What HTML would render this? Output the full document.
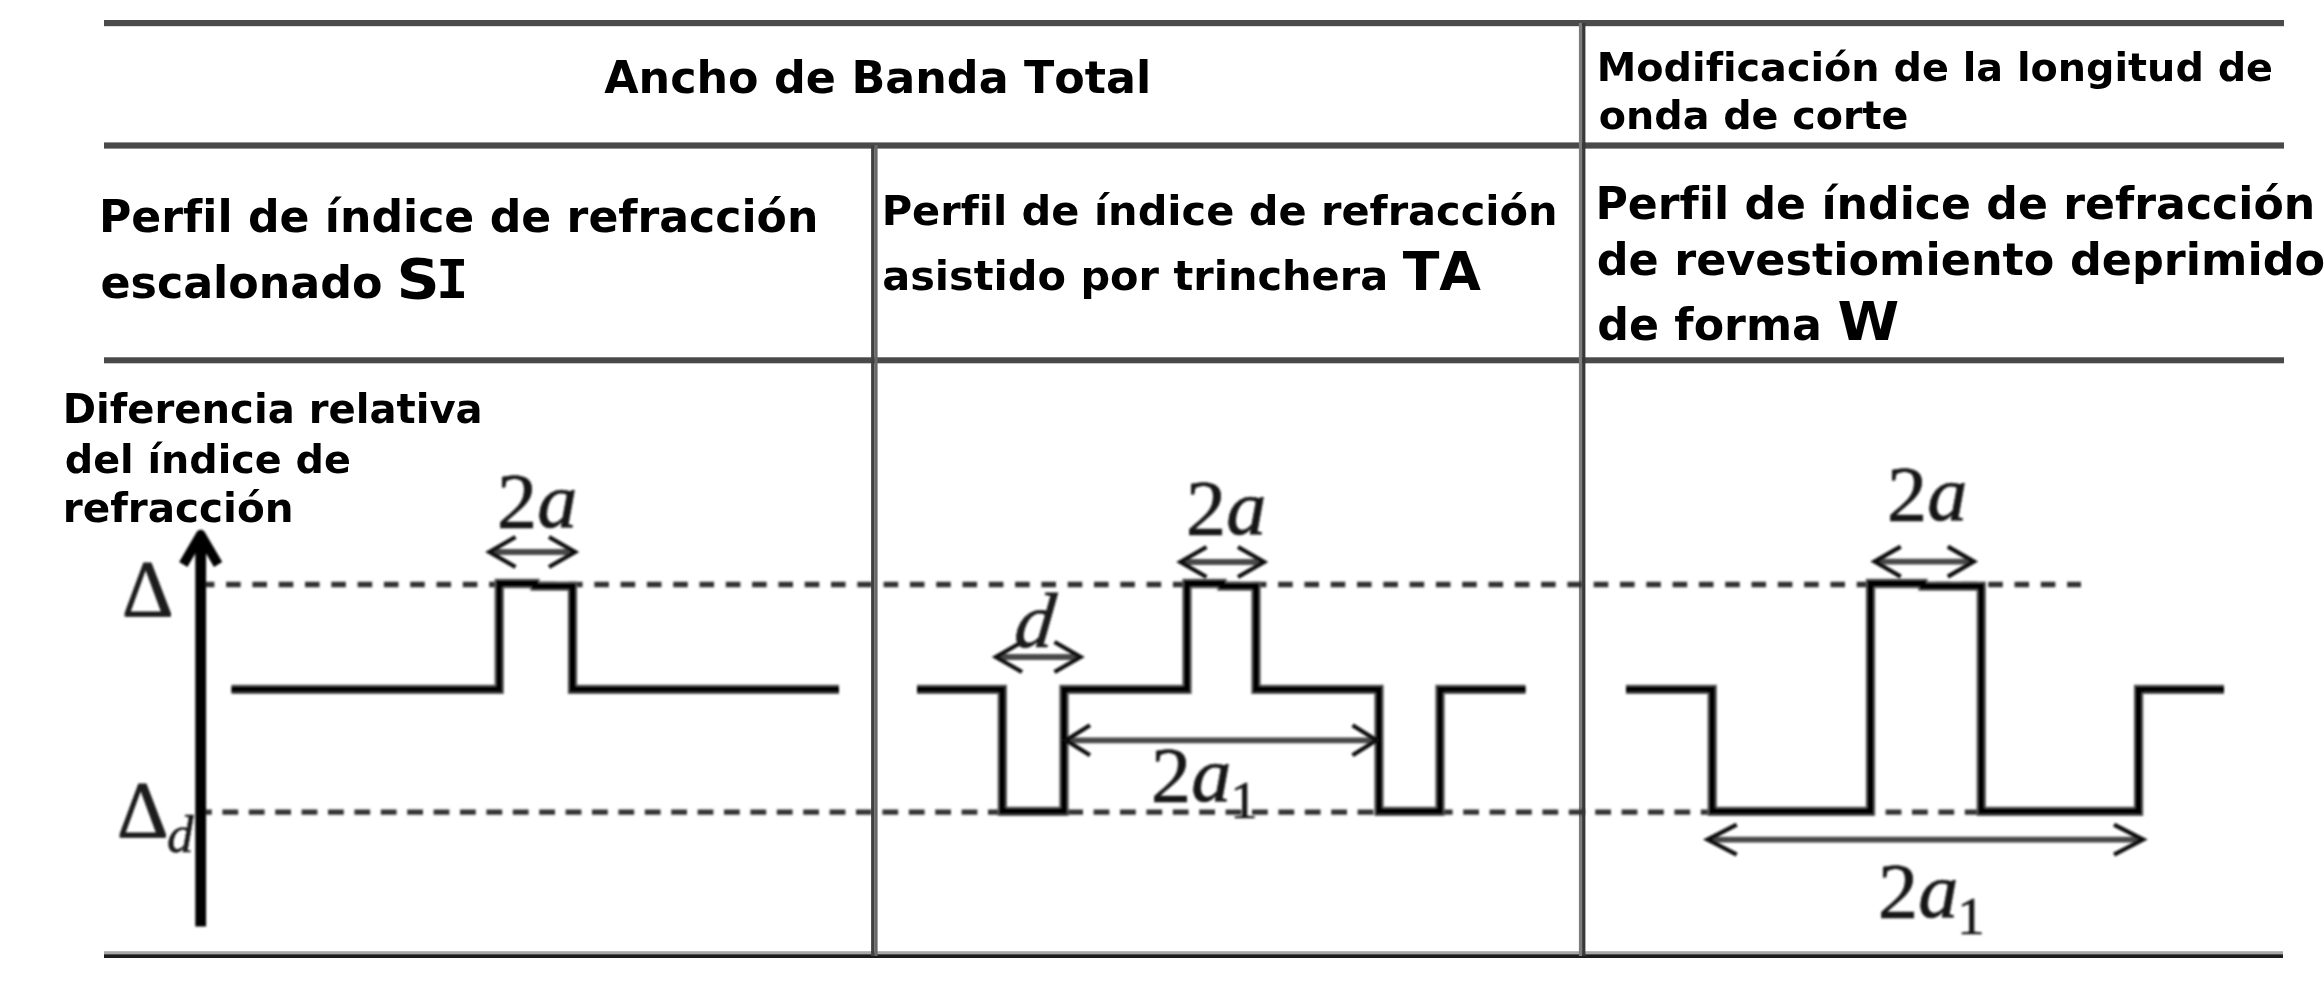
<!DOCTYPE html>
<html lang="es"><head><meta charset="utf-8"><title>Perfiles de índice de refracción</title>
<style>
html,body{margin:0;padding:0;background:#fff;}
body{width:2324px;height:998px;overflow:hidden;}
svg{display:block;}
text{white-space:pre;font-kerning:none;}
</style></head><body>
<svg width="2324" height="998" viewBox="0 0 2324 998">
<defs>
<filter id="b1" x="-5%" y="-5%" width="110%" height="110%"><feGaussianBlur stdDeviation="0.7"/></filter>
<filter id="b2" x="-5%" y="-5%" width="110%" height="110%"><feGaussianBlur stdDeviation="1.3"/></filter>
<filter id="b0" x="-5%" y="-5%" width="110%" height="110%"><feGaussianBlur stdDeviation="0.45"/></filter>
</defs>
<rect width="2324" height="998" fill="#fff"/>
<g filter="url(#b1)">
<rect x="104" y="20.0" width="2180" height="6.2" fill="#4c4c4c"/>
<rect x="104" y="142.4" width="2180" height="6.2" fill="#484848"/>
<rect x="104" y="357.3" width="2180" height="6.0" fill="#484848"/>
<rect x="104" y="951.2" width="2179" height="3.4" fill="#a8a8a8"/>
<rect x="104" y="954.3" width="2179" height="3.7" fill="#1c1c1c"/>
<rect x="871.1" y="145" width="3.5" height="811" fill="#414141"/>
<rect x="874.5" y="145" width="3.1" height="811" fill="#686868"/>
<rect x="1578.9" y="23" width="3.3" height="933" fill="#7c7c7c"/>
<rect x="1582.1" y="23" width="3.3" height="933" fill="#383838"/>
</g>
<g filter="url(#b2)">
<line x1="199.8" y1="584.5" x2="2081" y2="584.5" stroke="#333" stroke-width="5.6" stroke-dasharray="14.6 11.7"/>
<line x1="202" y1="812.2" x2="2140" y2="812.2" stroke="#333" stroke-width="5.2" stroke-dasharray="15.8 10.6" stroke-dashoffset="6"/>
<line x1="200.7" y1="536" x2="200.7" y2="926.5" stroke="#000" stroke-width="10.8"/>
<polyline points="183.3,564.5 200.7,534.6 218.1,564.5" fill="none" stroke="#000" stroke-width="9.6" stroke-linejoin="round"/>
<polyline points="231.5,689.4 499.2,689.4 499.2,583.5 535,583.5 535,586.2 572.5,586.2 572.5,689.4 839,689.4" fill="none" stroke="#5a5a5a" stroke-width="9.3" stroke-linejoin="miter" stroke-linecap="butt"/>
<polyline points="231.5,689.4 499.2,689.4 499.2,583.5 535,583.5 535,586.2 572.5,586.2 572.5,689.4 839,689.4" fill="none" stroke="#000" stroke-width="6.3" stroke-linejoin="miter" stroke-linecap="butt"/>
<polyline points="917,689.4 1002.3,689.4 1002.3,811.4 1064,811.4 1064,689.4 1187,689.4 1187,583.5 1222,583.5 1222,586.2 1256,586.2 1256,689.4 1379,689.4 1379,811.4 1440,811.4 1440,689.4 1525.5,689.4" fill="none" stroke="#5a5a5a" stroke-width="9.3" stroke-linejoin="miter" stroke-linecap="butt"/>
<polyline points="917,689.4 1002.3,689.4 1002.3,811.4 1064,811.4 1064,689.4 1187,689.4 1187,583.5 1222,583.5 1222,586.2 1256,586.2 1256,689.4 1379,689.4 1379,811.4 1440,811.4 1440,689.4 1525.5,689.4" fill="none" stroke="#000" stroke-width="6.3" stroke-linejoin="miter" stroke-linecap="butt"/>
<polyline points="1626,689.4 1712.2,689.4 1712.2,811.4 1870.5,811.4 1870.5,583.5 1923,583.5 1923,586.2 1981.2,586.2 1981.2,811.4 2138.6,811.4 2138.6,689.4 2224,689.4" fill="none" stroke="#5a5a5a" stroke-width="9.3" stroke-linejoin="miter" stroke-linecap="butt"/>
<polyline points="1626,689.4 1712.2,689.4 1712.2,811.4 1870.5,811.4 1870.5,583.5 1923,583.5 1923,586.2 1981.2,586.2 1981.2,811.4 2138.6,811.4 2138.6,689.4 2224,689.4" fill="none" stroke="#000" stroke-width="6.3" stroke-linejoin="miter" stroke-linecap="butt"/>
<line x1="492.5" y1="552" x2="572" y2="552" stroke="#484848" stroke-width="5.8"/>
<polyline points="515.5,537 489.5,552 515.5,567" fill="none" stroke="#111" stroke-width="4.3" stroke-linejoin="miter"/>
<polyline points="549,537 575,552 549,567" fill="none" stroke="#111" stroke-width="4.3" stroke-linejoin="miter"/>
<line x1="1183.5" y1="562" x2="1261" y2="562" stroke="#484848" stroke-width="5.8"/>
<polyline points="1206.5,547 1180.5,562 1206.5,577" fill="none" stroke="#111" stroke-width="4.3" stroke-linejoin="miter"/>
<polyline points="1238,547 1264,562 1238,577" fill="none" stroke="#111" stroke-width="4.3" stroke-linejoin="miter"/>
<line x1="999" y1="657" x2="1077.5" y2="657" stroke="#484848" stroke-width="5.8"/>
<polyline points="1022,642 996,657 1022,672" fill="none" stroke="#111" stroke-width="4.3" stroke-linejoin="miter"/>
<polyline points="1054.5,642 1080.5,657 1054.5,672" fill="none" stroke="#111" stroke-width="4.3" stroke-linejoin="miter"/>
<line x1="1069" y1="740.3" x2="1373.5" y2="740.3" stroke="#484848" stroke-width="5.8"/>
<polyline points="1090,725.3 1066,740.3 1090,755.3" fill="none" stroke="#111" stroke-width="4.3" stroke-linejoin="miter"/>
<polyline points="1352.5,725.3 1376.5,740.3 1352.5,755.3" fill="none" stroke="#111" stroke-width="4.3" stroke-linejoin="miter"/>
<line x1="1877.7" y1="561.6" x2="1970.8" y2="561.6" stroke="#484848" stroke-width="5.8"/>
<polyline points="1900.7,546.6 1874.7,561.6 1900.7,576.6" fill="none" stroke="#111" stroke-width="4.3" stroke-linejoin="miter"/>
<polyline points="1947.8,546.6 1973.8,561.6 1947.8,576.6" fill="none" stroke="#111" stroke-width="4.3" stroke-linejoin="miter"/>
<line x1="1710.7" y1="839.6" x2="2140" y2="839.6" stroke="#484848" stroke-width="5.8"/>
<polyline points="1736.7,824.6 1707.7,839.6 1736.7,854.6" fill="none" stroke="#111" stroke-width="4.3" stroke-linejoin="miter"/>
<polyline points="2114,824.6 2143,839.6 2114,854.6" fill="none" stroke="#111" stroke-width="4.3" stroke-linejoin="miter"/>
<text transform="translate(497 527.3) scale(1.03 1)" x="0" y="0" font-family="'Liberation Serif','DejaVu Serif',serif" font-size="78" fill="#161616" stroke="#161616" stroke-width="0.7">2<tspan font-style="italic">a</tspan></text>
<text transform="translate(1186 534) scale(1.03 1)" x="0" y="0" font-family="'Liberation Serif','DejaVu Serif',serif" font-size="78" fill="#161616" stroke="#161616" stroke-width="0.7">2<tspan font-style="italic">a</tspan></text>
<text transform="translate(1887 519.6) scale(1.03 1)" x="0" y="0" font-family="'Liberation Serif','DejaVu Serif',serif" font-size="78" fill="#161616" stroke="#161616" stroke-width="0.7">2<tspan font-style="italic">a</tspan></text>
<text transform="translate(1151 801) scale(1.03 1)" x="0" y="0" font-family="'Liberation Serif','DejaVu Serif',serif" font-size="78" fill="#161616" stroke="#161616" stroke-width="0.7">2<tspan font-style="italic">a</tspan><tspan font-size="53.0" dx="-1" dy="16.8">1</tspan></text>
<text transform="translate(1878 917) scale(1.03 1)" x="0" y="0" font-family="'Liberation Serif','DejaVu Serif',serif" font-size="78" fill="#161616" stroke="#161616" stroke-width="0.7">2<tspan font-style="italic">a</tspan><tspan font-size="53.0" dx="-1" dy="16.8">1</tspan></text>
<text x="1013" y="647" font-family="'Liberation Serif','DejaVu Serif',serif" font-size="78" font-style="italic" fill="#1a1a1a" stroke="#161616" stroke-width="0.7" transform="translate(1033 647) skewX(-6) translate(-1033 -647)">d</text>
<text x="122" y="616.2" font-family="'Liberation Serif','DejaVu Serif',serif" font-size="80" fill="#1a1a1a" stroke="#1a1a1a" stroke-width="0.9">Δ</text>
<text x="117" y="837" font-family="'Liberation Serif','DejaVu Serif',serif" font-size="80" fill="#1a1a1a" stroke="#1a1a1a" stroke-width="0.9">Δ</text>
<text x="167" y="852" font-family="'Liberation Serif','DejaVu Serif',serif" font-size="53" font-style="italic" fill="#1a1a1a" stroke="#1a1a1a" stroke-width="0.5">d</text>
</g>
<g filter="url(#b0)">
<text x="604.2" y="92.7" font-family="'DejaVu Sans','Liberation Sans',sans-serif" font-size="44.42" font-weight="bold" font-style="normal" fill="#000" id="t_title">Ancho de Banda Total</text>
<text x="1596.8" y="80.6" font-family="'DejaVu Sans','Liberation Sans',sans-serif" font-size="39.72" font-weight="bold" font-style="normal" fill="#000" id="t_mod1">Modificación de la longitud de</text>
<text x="1598.8" y="129.2" font-family="'DejaVu Sans','Liberation Sans',sans-serif" font-size="39.65" font-weight="bold" font-style="normal" fill="#000" id="t_mod2">onda de corte</text>
<text x="99.0" y="232.1" font-family="'DejaVu Sans','Liberation Sans',sans-serif" font-size="44.16" font-weight="bold" font-style="normal" fill="#000" id="t_c1l1">Perfil de índice de refracción</text>
<text x="100.4" y="297.9" font-family="'DejaVu Sans','Liberation Sans',sans-serif" font-size="44.36" font-weight="bold" font-style="normal" fill="#000" id="t_c1l2">escalonado</text>
<text x="881.7" y="224.7" font-family="'DejaVu Sans','Liberation Sans',sans-serif" font-size="41.49" font-weight="bold" font-style="normal" fill="#000" id="t_c2l1">Perfil de índice de refracción</text>
<text x="882.2" y="290" font-family="'DejaVu Sans','Liberation Sans',sans-serif" font-size="41.48" font-weight="bold" font-style="normal" fill="#000" id="t_c2l2">asistido por trinchera</text>
<text x="1402.7" y="290" font-family="'DejaVu Sans','Liberation Sans',sans-serif" font-size="53.76" font-weight="bold" font-style="normal" fill="#000" id="t_TA">TA</text>
<text x="1595.4" y="218.6" font-family="'DejaVu Sans','Liberation Sans',sans-serif" font-size="44.19" font-weight="bold" font-style="normal" fill="#000" id="t_c3l1">Perfil de índice de refracción</text>
<text x="1596.7" y="274.5" font-family="'DejaVu Sans','Liberation Sans',sans-serif" font-size="44.51" font-weight="bold" font-style="normal" fill="#000" id="t_c3l2">de revestiomiento deprimido</text>
<text x="1597.2" y="340.2" font-family="'DejaVu Sans','Liberation Sans',sans-serif" font-size="44.3" font-weight="bold" font-style="normal" fill="#000" id="t_c3l3">de forma</text>
<text x="62.8" y="423.1" font-family="'DejaVu Sans','Liberation Sans',sans-serif" font-size="40.14" font-weight="bold" font-style="normal" fill="#000" id="t_dif1">Diferencia relativa</text>
<text x="64.8" y="472.7" font-family="'DejaVu Sans','Liberation Sans',sans-serif" font-size="39.68" font-weight="bold" font-style="normal" fill="#000" id="t_dif2">del índice de</text>
<text x="62.8" y="522.3" font-family="'DejaVu Sans','Liberation Sans',sans-serif" font-size="40.49" font-weight="bold" font-style="normal" fill="#000" id="t_dif3">refracción</text>
<text x="396.4" y="297.9" font-family="'DejaVu Sans','Liberation Sans',sans-serif" font-size="54.5" font-weight="bold" font-style="normal" fill="#000" textLength="43.2" lengthAdjust="spacingAndGlyphs">S</text>
<text x="436.0" y="297.9" font-family="'DejaVu Sans Mono','Liberation Mono',monospace" font-size="54" font-weight="bold" font-style="normal" fill="#000">I</text>
<text x="1837.6" y="340.2" font-family="'DejaVu Sans','Liberation Sans',sans-serif" font-size="54" font-weight="bold" font-style="normal" fill="#000" textLength="61.8" lengthAdjust="spacingAndGlyphs">W</text>
</g>
</svg>
</body></html>
